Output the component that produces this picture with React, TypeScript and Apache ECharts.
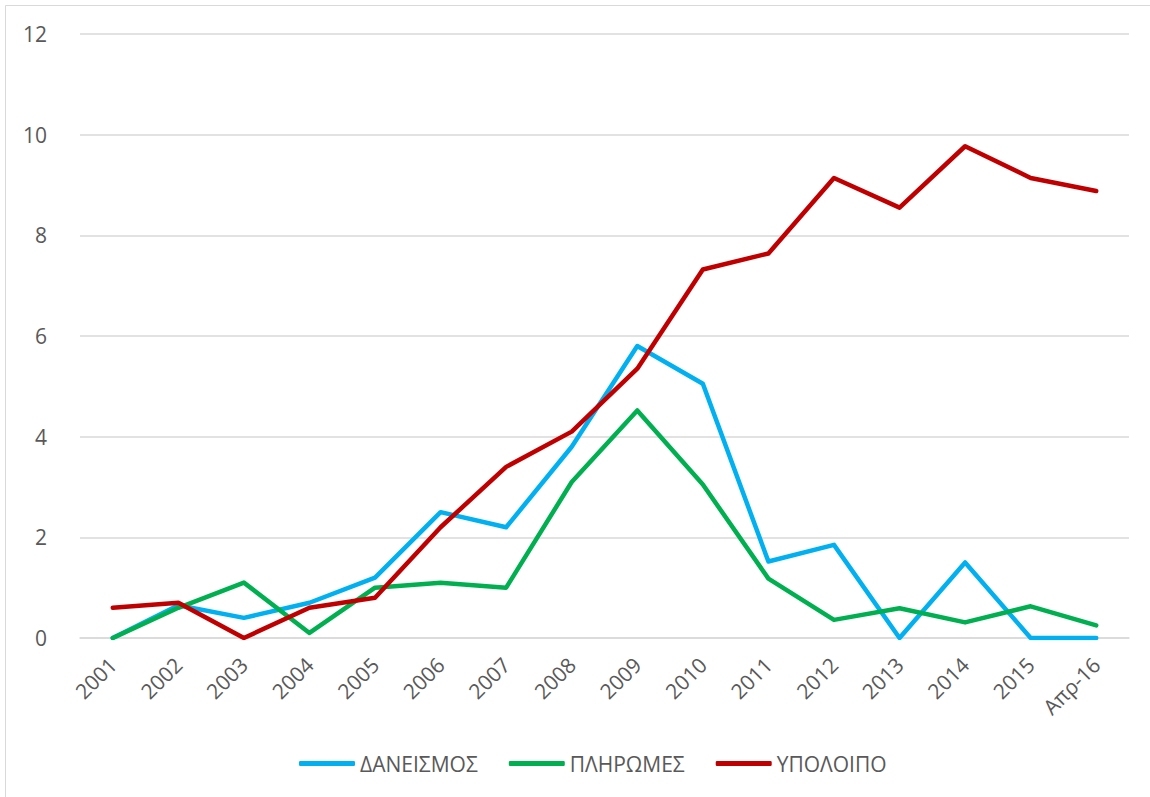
import React, { useEffect, useRef } from "react";
import * as echarts from "echarts";

const categories = ["2001", "2002", "2003", "2004", "2005", "2006", "2007", "2008", "2009", "2010", "2011", "2012", "2013", "2014", "2015", "Απρ-16"];
const daneismos = [0, 0.65, 0.4, 0.7, 1.2, 2.5, 2.2, 3.8, 5.8, 5.05, 1.52, 1.85, 0, 1.5, 0, 0];
const pliromes = [0, 0.6, 1.1, 0.1, 1.0, 1.1, 1.0, 3.1, 4.52, 3.05, 1.18, 0.36, 0.59, 0.31, 0.63, 0.25];
const ypoloipo = [0.6, 0.7, 0, 0.6, 0.8, 2.2, 3.4, 4.1, 5.35, 7.32, 7.64, 9.14, 8.55, 9.77, 9.14, 8.88];
const seriesNames = ["ΔΑΝΕΙΣΜΟΣ", "ΠΛΗΡΩΜΕΣ", "ΥΠΟΛΟΙΠΟ"];
const seriesColors = ["#00B0F0", "#00B050", "#C00000"];

export default function App() {
  const ref = useRef<HTMLDivElement>(null);
  useEffect(() => {
    if (!ref.current) return;
    const chart = echarts.init(ref.current, null, { renderer: "svg" });
    const font = "Open Sans, Noto Sans, sans-serif";
    const mk = (i: number, data: number[]) => ({
      name: seriesNames[i],
      type: "line",
      data,
      symbol: "none",
      lineStyle: { width: 4.5, color: seriesColors[i], cap: "round", join: "round" },
      itemStyle: { color: seriesColors[i] },
    });
    chart.setOption({
      animation: false,
      backgroundColor: "#ffffff",
      textStyle: { fontFamily: font },
      graphic: [
        {
          type: "rect",
          shape: { x: 5.5, y: 5.5, width: 1200, height: 900 },
          style: { fill: "none", stroke: "#d9d9d9", lineWidth: 1 },
          silent: true,
        },
      ],
      grid: { left: 80, right: 21, top: 34, bottom: 159, containLabel: false },
      legend: {
        top: 748,
        left: 294,
        itemWidth: 56,
        itemHeight: 5,
        itemGap: 31,
        icon: "roundRect",
        textStyle: { color: "#595959", fontSize: 21, fontFamily: font },
        data: seriesNames,
      },
      xAxis: {
        type: "category",
        data: categories,
        boundaryGap: true,
        axisLine: { show: true, lineStyle: { color: "#d9d9d9", width: 1.5 } },
        axisTick: { show: false },
        axisLabel: { rotate: 45, color: "#595959", fontSize: 21, margin: 23, fontFamily: font, interval: 0 },
      },
      yAxis: {
        type: "value",
        min: 0,
        max: 12,
        interval: 2,
        axisLine: { show: false },
        axisTick: { show: false },
        splitLine: { lineStyle: { color: "#d9d9d9", width: 1.5 } },
        axisLabel: { color: "#595959", fontSize: 21, margin: 33, fontFamily: font },
      },
      series: [mk(0, daneismos), mk(1, pliromes), mk(2, ypoloipo)],
    });
    return () => chart.dispose();
  }, []);
  return (
    <div
      ref={ref}
      style={{ position: "fixed", left: 0, top: 0, width: 1150, height: 797, background: "#fff" }}
    />
  );
}
